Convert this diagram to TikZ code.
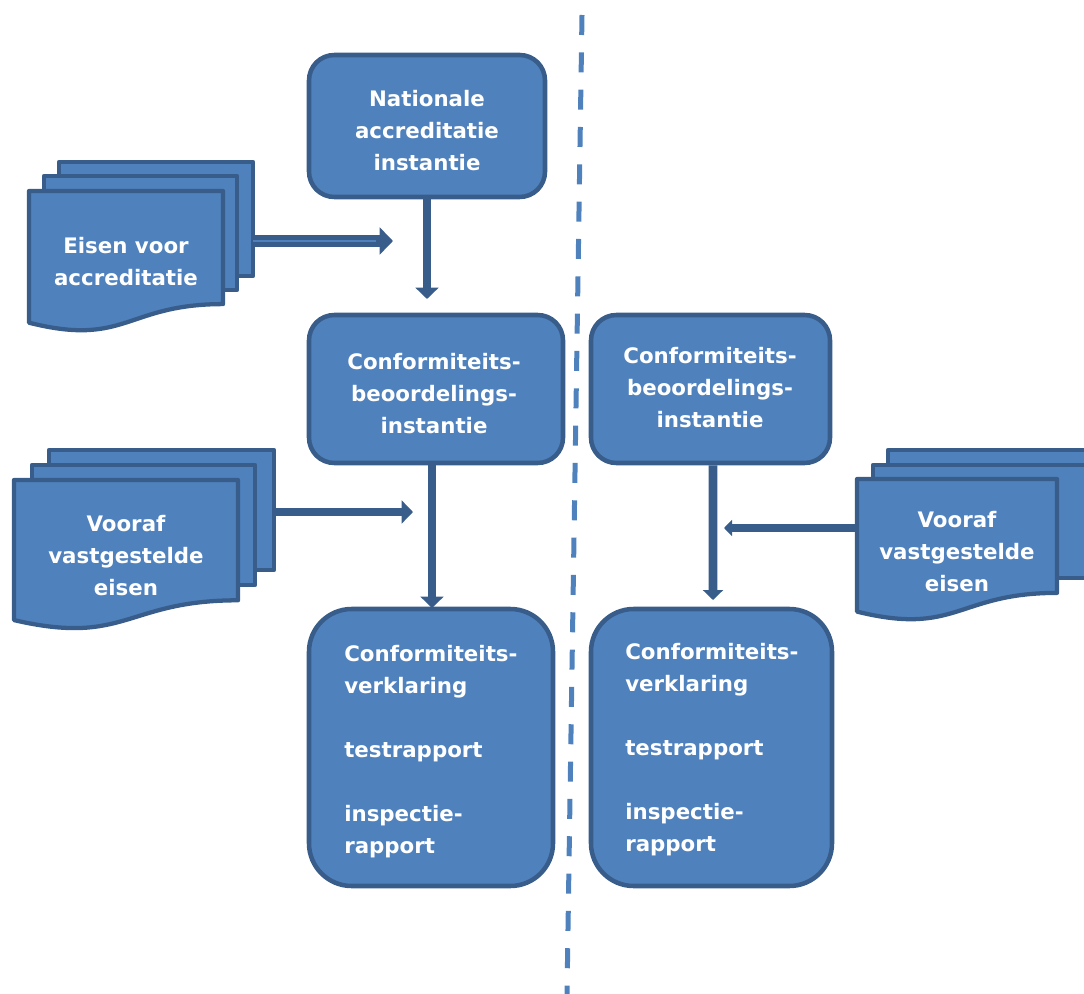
\documentclass[tikz,border=0pt]{standalone}
\usepackage{fontspec}
\setmainfont{DejaVu Sans}
\usetikzlibrary{arrows.meta}
\definecolor{fillblue}{HTML}{4F81BD}
\definecolor{edgeblue}{HTML}{385D8A}
\definecolor{dashblue}{HTML}{4F81BD}
\begin{document}
\begin{tikzpicture}[x=0.75pt,y=-0.75pt,
  box/.style={draw=edgeblue, fill=fillblue, line width=3.4pt, inner sep=0pt, rectangle},
  txt/.style={text=white, font=\bfseries\fontsize{16pt}{24pt}\selectfont, align=center, inner sep=0pt},
  sheet/.style={draw=edgeblue, fill=fillblue, line width=3.2pt, line join=round},
  conn/.style={draw=edgeblue, line width=6.5pt, -{Triangle[length=8.5pt,width=17pt]}},
]
\path[use as bounding box] (0,0) rectangle (1084,994);
\clip (0,0) rectangle (1084,994);

% dividing dashed line
\coordinate (dtop) at (582,15);
\coordinate (dbot) at (567,994);
\draw[dashblue, line width=3.75pt, dash pattern=on 15pt off 13pt] (dtop) -- (dbot);

% boxes
\node[box, rounded corners=19pt, minimum width=177pt, minimum height=106.5pt] (nai) at (427,126) {};
\node[box, rounded corners=19pt, minimum width=190.5pt, minimum height=111pt] (cbi1) at (436,389) {};
\node[box, rounded corners=19pt, minimum width=179.25pt, minimum height=111pt] (cbi2) at (710.5,389) {};
\node[box, rounded corners=32pt, minimum width=183pt, minimum height=207.75pt] (cv1) at (431,747.5) {};
\node[box, rounded corners=32pt, minimum width=180.75pt, minimum height=207.75pt] (cv2) at (711.5,747.5) {};

\node[txt] (t1) at (427,131) {Nationale\\accreditatie\\instantie};
\node[txt] (t2) at (434,394) {Conformiteits-\\beoordelings-\\instantie};
\node[txt] (t3) at (710,388) {Conformiteits-\\beoordelings-\\instantie};
\node[txt, align=left, anchor=west] (t4) at (344,752) {Conformiteits-\\verklaring\\[24pt]testrapport\\[24pt]inspectie-\\rapport};
\node[txt, align=left, anchor=west] (t5) at (625,750) {Conformiteits-\\verklaring\\[24pt]testrapport\\[24pt]inspectie-\\rapport};

% stack 1: Eisen voor accreditatie
\path[sheet] (59,162) rectangle (253,276);
\path[sheet] (44,176) rectangle (237,290);
\path[sheet] (29,191) -- (223,191) -- (223,304.1) .. controls (126,304.1) and (126,347.2) .. (29,322.7) -- cycle;
\node[txt] (eisacc) at (126,262) {Eisen voor\\accreditatie};

% stack 2: left Vooraf vastgestelde eisen
\path[sheet] (49,450) rectangle (274,570);
\path[sheet] (32,465) rectangle (255,585);
\path[sheet] (14,480) -- (238,480) -- (238,600.3) .. controls (126,600.3) and (126,646.1) .. (14,620.1) -- cycle;
\node[txt] (vve1) at (126,556) {Vooraf\\vastgestelde\\eisen};

% stack 3: right Vooraf vastgestelde eisen
\path[sheet] (888,450) rectangle (1113,565);
\path[sheet] (873,465) rectangle (1096,578);
\path[sheet] (857,479) -- (1057,479) -- (1057,592.9) .. controls (957,592.9) and (957,636.3) .. (857,611.6) -- cycle;
\node[txt] (vve2) at (957,552) {Vooraf\\vastgestelde\\eisen};

% connectors
\coordinate (a1s) at (253,241);
\coordinate (a1e) at (393,241);
\coordinate (a1m) at (376,241);
\draw[conn, line width=8.5pt, -{Triangle[length=10pt,width=20pt]}] (a1s) -- (a1e);
\draw[fillblue, line width=1.2pt] (a1s) -- (a1m);

\coordinate (v1e) at (427,299);
\draw[conn] (nai.south) -- (v1e);

\coordinate (a2s) at (274,512);
\coordinate (a2e) at (413,512);
\draw[conn] (a2s) -- (a2e);

\coordinate (v2e) at (432,608);
\draw[conn] ([xshift=-3pt]cbi1.south) -- (v2e);

\coordinate (v3e) at (713,600);
\draw[conn, -{Triangle[length=7.5pt,width=15pt]}] ([xshift=1.9pt]cbi2.south) -- (v3e);

\coordinate (a3s) at (857,528);
\coordinate (a3e) at (724,528);
\draw[conn, -{Triangle[length=6pt,width=12pt]}] (a3s) -- (a3e);
\end{tikzpicture}
\end{document}
